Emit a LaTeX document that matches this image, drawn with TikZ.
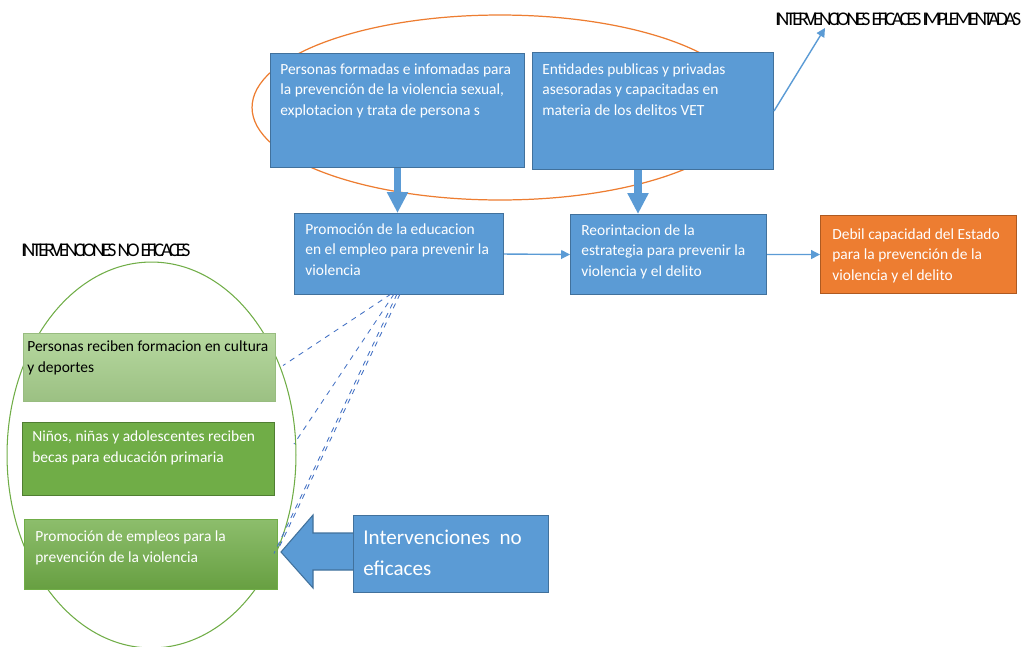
\documentclass[tikz,border=0pt]{standalone}
\usepackage{fontspec}
\setmainfont{Carlito}
\newfontfamily\tightfont[LetterSpace=-17]{Carlito}
\usetikzlibrary{arrows.meta,positioning}

\definecolor{boxblue}{HTML}{5B9BD5}
\definecolor{edgeblue}{HTML}{41719C}
\definecolor{boxorange}{HTML}{ED7D31}
\definecolor{edgeorange}{HTML}{AE5A21}
\definecolor{lightgreen}{HTML}{A9D18E}
\definecolor{boxgreen}{HTML}{70AD47}
\definecolor{edgegreen}{HTML}{507E32}
\definecolor{dashblue}{HTML}{4472C4}

\tikzset{
  box/.style={draw=edgeblue, fill=boxblue, line width=0.6pt, anchor=north west, inner sep=0pt},
  txt/.style={anchor=north west, align=left, inner sep=0pt, text=white, font=\fontsize{8.8}{11.9}\selectfont},
  header/.style={anchor=base west, inner sep=0pt, font=\tightfont\fontsize{11}{13}\selectfont},
  thick arrow/.style={boxblue, line width=4pt, -{Triangle[width=0.4cm,length=0.42cm]}},
  thin arrow/.style={boxblue, line width=0.8pt, -{Triangle[width=5pt,length=5pt]}},
  link/.style={dashblue, line width=0.5pt, dashed}
}

\begin{document}
\begin{tikzpicture}[x=0.02cm,y=-0.02cm]
    \useasboundingbox (0,0) rectangle (1021,646);
    \draw[boxorange, line width=0.7pt] (500,107.5) ellipse [x radius=4.96cm, y radius=1.85cm];
    \draw[boxgreen, line width=0.6pt] (151.5,455) ellipse [x radius=2.89cm, y radius=3.86cm];

    \node[box, minimum width=5.08cm, minimum height=2.28cm] (pform) at (270,53) {};
    \node[txt] (pformtxt) at ([shift={(10,10)}]pform.north west) {Personas formadas e infomadas para\\la prevención de la violencia sexual,\\explotacion y trata de persona s};
    \node[box, minimum width=4.82cm, minimum height=2.34cm] (entid) at (532,52) {};
    \node[txt] (entidtxt) at ([shift={(10,11)}]entid.north west) {Entidades publicas y privadas\\asesoradas y capacitadas en\\materia de los delitos VET};

    \node[box, minimum width=4.18cm, minimum height=1.62cm] (promedu) at (294,213) {};
    \node[txt] (promedutxt) at ([shift={(11,10)}]promedu.north west) {Promoción de la educacion\\en el empleo para prevenir la\\violencia};
    \node[box, minimum width=3.92cm, minimum height=1.60cm] (reor) at (570,214) {};
    \node[txt] (reortxt) at ([shift={(11,10)}]reor.north west) {Reorintacion de la\\estrategia para prevenir la\\violencia y el delito};
    \node[box, draw=edgeorange, fill=boxorange, minimum width=3.92cm, minimum height=1.56cm] (debil) at (820,215) {};
    \node[txt] (debiltxt) at ([shift={(12,13)}]debil.north west) {Debil capacidad del Estado\\para la prevención de la\\violencia y el delito};

    \node[box, draw=lightgreen!90!black, top color=lightgreen!85!white, bottom color=lightgreen!92!black, minimum width=5.04cm, minimum height=1.36cm] (perscult) at (23,333) {};
    \node[txt, text=black] (perscultxt) at ([shift={(4,7)}]perscult.north west) {Personas reciben formacion en cultura\\y deportes};
    \node[box, draw=edgegreen, fill=boxgreen, minimum width=5.04cm, minimum height=1.46cm] (ninos) at (22,422) {};
    \node[txt] (ninostxt) at ([shift={(10,8)}]ninos.north west) {Niños, niñas y adolescentes reciben\\becas para educación primaria};
    \node[box, draw=boxgreen, top color=boxgreen!80!white, bottom color=boxgreen!92!black, minimum width=5.06cm, minimum height=1.40cm] (promemp) at (24,519) {};
    \node[txt] (promemptxt) at ([shift={(11,11)}]promemp.north west) {Promoción de empleos para la\\prevención de la violencia};

    \filldraw[fill=boxblue, draw=edgeblue, line width=0.6pt] (281,552) -- (313,515) -- (313,533) -- (356,533) -- (356,570) -- (313,570) -- (313,588) -- cycle;
    \node[box, minimum width=3.90cm, minimum height=1.54cm] (interv) at (353,515) {};
    \node[txt, font=\fontsize{12}{17.5}\selectfont] (intervtxt) at ([shift={(10,15)}]interv.north west) {Intervenciones\ \ no\\eficaces};

    \node[header] (implem) at (775,25) {INTERVENCIONES EFICACES IMPLEMENTADAS};
    \node[header] (noefic) at (21,256) {INTERVENCIONES NO EFICACES};

    \draw[thick arrow] (pform.south) -- (pform.south |- promedu.north);
    \draw[thick arrow] ([shift={(-15,0)}]entid.south) -- ([shift={(-15,0)}]entid.south |- reor.north);
    \draw[thin arrow] (promedu.east) -- (reor.west);
    \draw[thin arrow] (reor.east) -- (debil.west);
    \draw[thin arrow] (entid.east) -- ([shift={(50,3)}]implem.base west);

    \draw[link] ([shift={(-8,-1)}]promedu.south) -- ([shift={(7,-2)}]perscult.east);
    \draw[link] ([shift={(-5,-1)}]promedu.south) -- ([shift={(19,-15)}]ninos.east);
    \draw[link] ([shift={(-2,-1)}]promedu.south) -- ([shift={(-4,-1)}]promemp.east);
    \draw[link] ([shift={(1,-1)}]promedu.south) -- ([shift={(1,-7)}]promemp.east);
\end{tikzpicture}
\end{document}
